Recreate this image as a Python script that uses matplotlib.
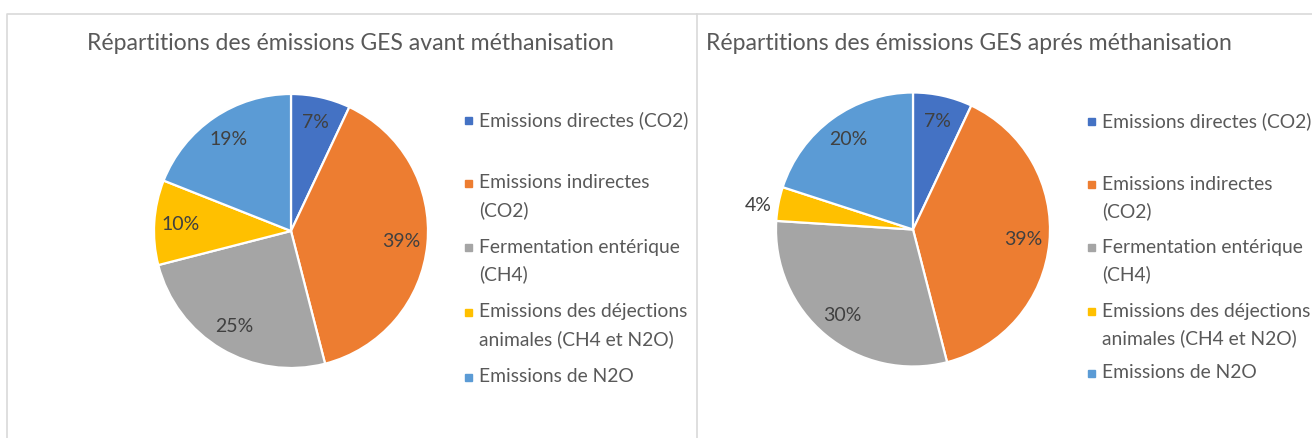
import matplotlib.pyplot as plt
from matplotlib.patches import Rectangle

# data
categories = ['Emissions directes (CO2)', 'Emissions indirectes\n(CO2)',
              'Fermentation entérique\n(CH4)', 'Emissions des déjections\nanimales (CH4 et N2O)',
              'Emissions de N2O']
avant = [7, 39, 25, 10, 19]
apres = [7, 39, 30, 4, 20]
titles = ['Répartitions des émissions GES avant méthanisation',
          'Répartitions des émissions GES aprés méthanisation']
colors = ['#4472C4', '#ED7D31', '#A5A5A5', '#FFC000', '#5B9BD5']

W, H = 1312, 438
plt.rcParams['font.family'] = ['Lato', 'DejaVu Sans']
fig = plt.figure(figsize=(W / 100, H / 100), dpi=100)


def px_axes(x0, y0, x1, y1):
    return fig.add_axes([x0 / W, 1 - y1 / H, (x1 - x0) / W, (y1 - y0) / H])


# panel frames
bg = fig.add_axes([0, 0, 1, 1])
bg.set_xlim(0, W)
bg.set_ylim(H, 0)
bg.axis('off')
bg.plot([7, 7, 697, 697], [H, 14, 14, H], color='#D9D9D9', lw=1.2)
bg.plot([697, W], [14, 14], color='#D9D9D9', lw=1.2)

panels = [
    dict(vals=avant, center=(291, 231), r=137, title=titles[0], tx=350, ha='center',
         leg_x=468, leg_y=[120, 183, 247, 312, 377]),
    dict(vals=apres, center=(913, 229.5), r=137, title=titles[1], tx=706, ha='left',
         leg_x=1091, leg_y=[121, 184, 247, 311, 373]),
]

for i, p in enumerate(panels):
    cx, cy = p['center']
    r = p['r']
    ax = px_axes(cx - r, cy - r, cx + r, cy + r)
    wedges, texts, autotexts = ax.pie(
        p['vals'], colors=colors, startangle=90, counterclock=False,
        autopct=lambda v: f'{v:.0f}%', pctdistance=0.81,
        wedgeprops=dict(edgecolor='white', linewidth=1.6),
        textprops=dict(color='#404040', fontsize=14))
    ax.set_xlim(-1, 1)
    ax.set_ylim(-1, 1)
    for t in autotexts:
        t.set_clip_on(False)
    if i == 1:
        # small slice label placed just outside the pie
        x, y = autotexts[3].get_position()
        autotexts[3].set_position((x / 0.81 * 1.15, y / 0.81 * 1.15 - 0.04))

    bg.text(p['tx'], 44, p['title'], ha=p['ha'], va='center',
            fontsize=16.6, color='#595959')

    for lab, col, ly in zip(categories, colors, p['leg_y']):
        bg.add_patch(Rectangle((p['leg_x'] - 3.5, ly - 3.5), 7, 7, color=col))
        for k, line in enumerate(lab.split('\n')):
            bg.text(p['leg_x'] + 11, ly + 27 * k, line, ha='left', va='center',
                    fontsize=13.9, color='#595959')

fig.savefig('out.png', dpi=100)
